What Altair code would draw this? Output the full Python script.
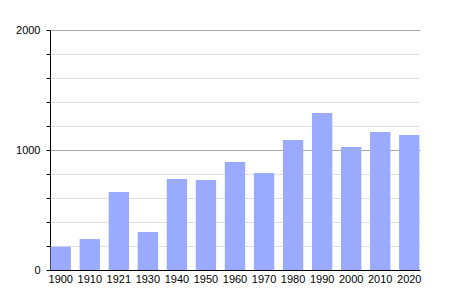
import altair as alt
import pandas as pd

years = ["1900", "1910", "1921", "1930", "1940", "1950", "1960", "1970",
         "1980", "1990", "2000", "2010", "2020"]
population = [194, 258, 650, 317, 758, 750, 900, 808, 1083, 1308, 1025, 1150, 1125]

df = pd.DataFrame({"year": years, "pop": population})

chart = alt.Chart(df).mark_bar(color="#99aaff").encode(
    x=alt.X("year:N", sort=years, title=None,
            scale=alt.Scale(paddingInner=0.3, paddingOuter=0.02),
            axis=alt.Axis(labelAngle=0, ticks=False, domainColor="black",
                          labelFont="Liberation Sans", labelFontSize=11,
                          labelColor="black", labelPadding=3, grid=False)),
    y=alt.Y("pop:Q", title=None,
            scale=alt.Scale(domain=[0, 2000], nice=False),
            axis=alt.Axis(values=list(range(0, 2001, 200)),
                          labelExpr="datum.value % 1000 === 0 ? datum.label : ''",
                          format="d",
                          gridColor=alt.condition("datum.value % 1000 === 0",
                                                  alt.value("#aaaaaa"),
                                                  alt.value("#e0e0e0")),
                          tickColor="black", tickSize=4, domainColor="black",
                          labelFont="Liberation Sans", labelFontSize=11,
                          labelColor="black", labelPadding=6)),
).properties(
    width=370, height=240,
    autosize=alt.AutoSizeParams(type="none"),
    padding={"left": 50, "top": 30, "right": 30, "bottom": 30},
).configure_view(stroke=None)

chart.save("out.html", embed_options={"renderer": "svg", "actions": False})
